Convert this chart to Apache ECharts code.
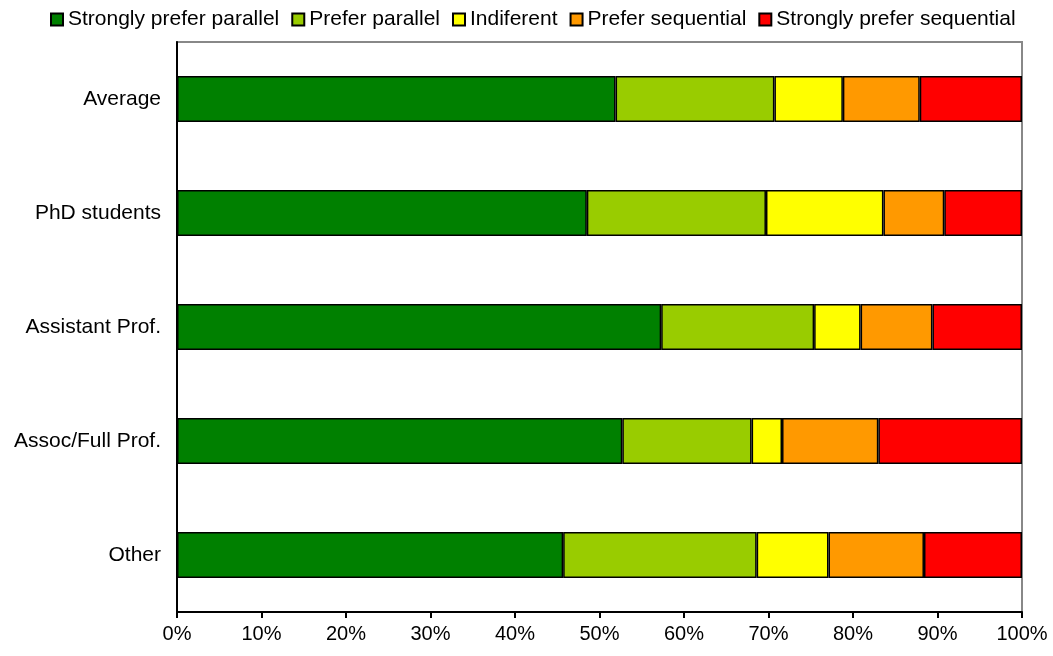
<!DOCTYPE html>
<html>
<head>
<meta charset="utf-8">
<script src="https://cdn.jsdelivr.net/npm/echarts@6/dist/echarts.min.js"></script>
<style>
  html, body { margin: 0; padding: 0; background: #fff; }
  #chart { width: 1053px; height: 656px; }
</style>
</head>
<body>
<div id="chart"></div>
<script>
// groups, top to bottom
const groups = ['Average', 'PhD students', 'Assistant Prof.', 'Assoc/Full Prof.', 'Other']

// share of answers per group (%)
const stronglyParallel = [51.9, 48.5, 57.3, 52.7, 45.7]
const preferParallel = [18.8, 21.2, 18.1, 15.3, 22.9]
const indifferent = [8.1, 13.9, 5.5, 3.6, 8.5]
const preferSequential = [9.1, 7.2, 8.5, 11.4, 11.3]
const stronglySequential = [12.1, 9.2, 10.6, 17.0, 11.6]

const seriesNames = ['Strongly prefer parallel', 'Prefer parallel', 'Indiferent', 'Prefer sequential', 'Strongly prefer sequential']
const seriesColors = ['#008000', '#99cc00', '#ffff00', '#ff9900', '#ff0000']
const seriesData = [stronglyParallel, preferParallel, indifferent, preferSequential, stronglySequential]

const xTicks = [0, 10, 20, 30, 40, 50, 60, 70, 80, 90, 100]

const chart = echarts.init(document.getElementById('chart'))

const font = 'Liberation Sans, Arial, sans-serif'

chart.setOption({
  animation: false,
  textStyle: { fontFamily: font },
  legend: {
    top: 4,
    left: 45,
    icon: 'rect',
    itemWidth: 12,
    itemHeight: 12,
    itemGap: 12,
    textStyle: { fontSize: 21, color: '#000' },
    data: seriesNames
  },
  grid: {
    left: 177,
    right: 31,
    top: 42,
    bottom: 44,
    show: true,
    borderColor: '#888',
    borderWidth: 2
  },
  xAxis: {
    type: 'value',
    min: xTicks[0],
    max: xTicks[xTicks.length - 1],
    interval: 10,
    splitLine: { show: false },
    axisLine: { show: true, lineStyle: { color: '#000', width: 2 } },
    axisTick: { show: true, length: 6, lineStyle: { color: '#000', width: 2 } },
    axisLabel: {
      fontSize: 20,
      color: '#000',
      margin: 12,
      formatter: v => v + '%'
    }
  },
  yAxis: {
    type: 'category',
    data: groups,
    inverse: true,
    axisLine: { show: true, lineStyle: { color: '#000', width: 2 } },
    axisTick: { show: false },
    axisLabel: { fontSize: 21, color: '#000', margin: 16 }
  },
  series: seriesNames.map((name, i) => ({
    name: name,
    type: 'bar',
    stack: 'total',
    barWidth: 46,
    data: seriesData[i],
    itemStyle: { color: seriesColors[i], borderColor: '#000', borderWidth: 1.5 }
  }))
})
</script>
</body>
</html>
